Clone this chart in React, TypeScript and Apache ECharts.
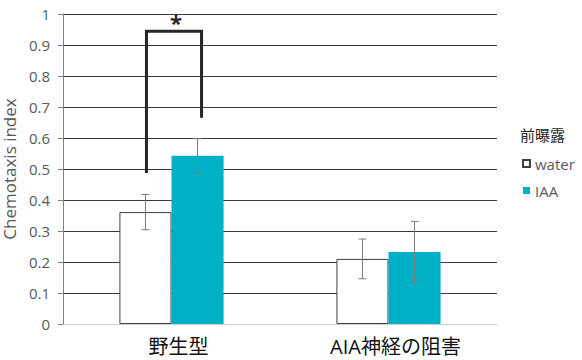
import React, { useEffect, useRef } from "react";
import * as echarts from "echarts";

const categories = ["野生型", "AIA神経の阻害"];
const seriesNames = ["water", "IAA"];
const waterValues = [0.361, 0.21];
const iaaValues = [0.543, 0.232];
const waterErr = [0.057, 0.064];
const iaaErr = [0.055, 0.099];
const yTicks = [0, 0.1, 0.2, 0.3, 0.4, 0.5, 0.6, 0.7, 0.8, 0.9, 1];
// significance bracket: [category index, left bottom, top, right bottom]
const bracket = [[0, 0.487, 0.944, 0.665]];
const legendTitle = "前曝露";
const yTitle = "Chemotaxis index";

const FONT = "'Open Sans', 'Noto Sans CJK JP', sans-serif";
const GRAY = "#595959";

export default function App() {
  const ref = useRef<HTMLDivElement>(null);
  useEffect(() => {
    document.body.style.margin = "0";
    const chart = echarts.init(ref.current!, null, { renderer: "svg" });
    const errData: number[][] = [];
    waterValues.forEach((v, i) => errData.push([i, v - waterErr[i], v + waterErr[i], 0]));
    iaaValues.forEach((v, i) => errData.push([i, v - iaaErr[i], v + iaaErr[i], 1]));
    const barRatio = 0.24;
    chart.setOption({
      animation: false,
      textStyle: { fontFamily: FONT },
      title: {
        text: legendTitle,
        left: 515,
        top: 122,
        textStyle: { fontSize: 15, fontWeight: "normal", color: "#262626", fontFamily: FONT },
      },
      legend: {
        orient: "vertical",
        left: 517,
        top: 151,
        itemWidth: 7,
        itemHeight: 7,
        itemGap: 12,
        icon: "rect",
        data: seriesNames,
        textStyle: { fontSize: 15, color: GRAY, fontFamily: FONT },
      },
      grid: { left: 63, right: 85, top: 14, bottom: 36, outerBoundsMode: "none", containLabel: false },
      xAxis: {
        type: "category",
        data: categories,
        axisLine: { lineStyle: { color: "#d0d0d0" } },
        axisTick: { show: false },
        axisLabel: {
          fontSize: 20,
          color: "#111",
          margin: 12,
          fontFamily: FONT,
          padding: [0, 0, 0, 14],
        },
      },
      yAxis: {
        type: "value",
        min: yTicks[0],
        max: yTicks[yTicks.length - 1],
        interval: 0.1,
        name: yTitle,
        nameLocation: "middle",
        nameGap: 33,
        nameTextStyle: { fontSize: 17, color: GRAY, fontFamily: FONT },
        axisLine: { show: true, lineStyle: { color: "#808080" } },
        axisTick: { show: true, length: 5, lineStyle: { color: "#808080" } },
        axisLabel: {
          fontSize: 15,
          color: GRAY,
          margin: 13,
          fontFamily: FONT,
          formatter: (v: number) => String(Math.round(v * 10) / 10),
        },
        splitLine: { lineStyle: { color: "#3a3a3a", width: 1 } },
      },
      series: [
        {
          name: seriesNames[0],
          type: "bar",
          data: waterValues,
          barWidth: barRatio * 100 + "%",
          barGap: "0%",
          itemStyle: { color: "#ffffff", borderColor: "#404040", borderWidth: 1 },
        },
        {
          name: seriesNames[1],
          type: "bar",
          data: iaaValues,
          barWidth: barRatio * 100 + "%",
          barGap: "0%",
          itemStyle: { color: "#00B0C6" },
        },
        {
          type: "custom",
          data: errData,
          z: 5,
          renderItem: (params: any, api: any) => {
            const cat = api.value(0);
            const lo = api.coord([cat, api.value(1)]);
            const hi = api.coord([cat, api.value(2)]);
            const band = api.size([1, 0])[0];
            const bw = band * barRatio;
            const x = lo[0] + (api.value(3) === 0 ? -bw / 2 : bw / 2);
            const cap = 4;
            const style = { stroke: "#7a7a7a", lineWidth: 1, fill: null };
            return {
              type: "group",
              children: [
                { type: "line", shape: { x1: x, y1: lo[1], x2: x, y2: hi[1] }, style },
                { type: "line", shape: { x1: x - cap, y1: lo[1], x2: x + cap, y2: lo[1] }, style },
                { type: "line", shape: { x1: x - cap, y1: hi[1], x2: x + cap, y2: hi[1] }, style },
              ],
            };
          },
        },
        {
          type: "custom",
          data: bracket,
          z: 6,
          renderItem: (params: any, api: any) => {
            const cat = api.value(0);
            const pl = api.coord([cat, api.value(1)]);
            const pt = api.coord([cat, api.value(2)]);
            const pr = api.coord([cat, api.value(3)]);
            const band = api.size([1, 0])[0];
            const bw = band * barRatio;
            const xl = pl[0] - bw / 2 + 1;
            const xr = pl[0] + bw / 2 + 4;
            return {
              type: "group",
              children: [
                {
                  type: "polyline",
                  shape: { points: [[xl, pl[1]], [xl, pt[1]], [xr, pt[1]], [xr, pr[1]]] },
                  style: { stroke: "#262626", lineWidth: 3, fill: null, lineJoin: "miter" },
                },
                {
                  type: "text",
                  x: (xl + xr) / 2 + 2,
                  y: pt[1] + 2,
                  style: {
                    text: "*",
                    fontSize: 22,
                    fontWeight: "bold",
                    fill: "#262626",
                    align: "center",
                    verticalAlign: "bottom",
                    fontFamily: FONT,
                  },
                },
              ],
            };
          },
        },
      ],
    });
    return () => chart.dispose();
  }, []);
  return <div ref={ref} style={{ width: 582, height: 360 }} />;
}
